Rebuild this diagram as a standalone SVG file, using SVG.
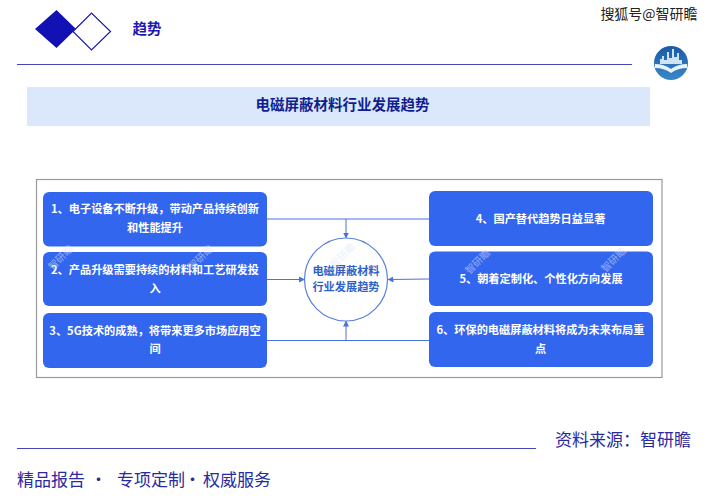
<svg xmlns="http://www.w3.org/2000/svg" width="714" height="500" viewBox="0 0 714 500">
<defs>
<style>
text{font-family:"Noto Sans CJK SC","Liberation Sans",sans-serif;text-anchor:middle}
.node rect{fill:#3366ee}
.node text{fill:#fff;font-size:11.200px;font-weight:700}
.rule{stroke:#4646ba;stroke-width:1.2;fill:none}
.conn{stroke:#4a72e0;stroke-width:1;fill:none;marker-end:url(#arrow)}
.plain{stroke:#4a72e0;stroke-width:1;fill:none}
.wm{fill:#dce6f8;font-size:10px;opacity:.55}
.foot{fill:#2a2aa0;font-size:17px;text-anchor:start}
.hub{font-size:11.200px;font-weight:700;fill:#2f62c8}
</style>
<marker id="arrow" markerWidth="7" markerHeight="7" refX="5.5" refY="3" orient="auto" markerUnits="userSpaceOnUse"><path d="M0 0L6 3L0 6Z" fill="#4a72e0"/></marker>
<linearGradient id="logoFill" x1="0" y1="0" x2="0" y2="1"><stop offset="0" stop-color="#1c5aa6"/><stop offset="1" stop-color="#3a88c8"/></linearGradient>
</defs>
<rect width="714" height="500" fill="#fff"/>
<g id="header">
<path d="M35 29L56.500 10L76 29L56.500 48Z" fill="#1212b4"/>
<path d="M73 31.500L91.500 13L110.500 31.500L91.500 50Z" fill="#fff" stroke="#1a1aa8" stroke-width="1.200"/>
<text x="147" y="34" style="font-size:14.500px;font-weight:700;fill:#1a1ab0">趋势</text>
<line class="rule" x1="17" y1="64.500" x2="632" y2="64.500"/>
<text x="649" y="19" style="font-size:14px;fill:#222;stroke:#fff;stroke-width:2.500px;paint-order:stroke">搜狐号@智研瞻</text>
</g>
<g id="logo">
<circle cx="671" cy="63" r="17" fill="url(#logoFill)"/>
<path d="M660 64V59H662V56H664V60H667V52H669V58H672V49H674V57H677V53H679V60H682V64Z" fill="#cfe3f5"/>
<path d="M655 64Q664 64 671 69Q678 64 687 64V68Q678 68 671 73Q664 68 655 68Z" fill="#e8f2fb"/>
</g>
<g id="title">
<rect x="27" y="87" width="623" height="39" fill="#dbe8fb"/>
<text x="342.500" y="110" style="font-size:14.500px;font-weight:700;fill:#0f1f8f">电磁屏蔽材料行业发展趋势</text>
</g>
<rect id="frame" x="36.500" y="179.500" width="625.500" height="198" fill="#fff" stroke="#999" stroke-width="1.200"/>
<g id="connectors">
<path class="plain" d="M267 219H429"/>
<path class="conn" d="M346 219V238"/>
<path class="conn" d="M267 279.500H304.500"/>
<path class="conn" d="M429 279L388 279.500"/>
<path class="plain" d="M267 340.500H429"/>
<path class="conn" d="M346 340.500V321"/>
</g>
<g id="center">
<circle cx="346" cy="279.500" r="41.500" fill="#fff" stroke="#5a80dc" stroke-width="1.200"/>
<text class="hub" x="346" y="275">电磁屏蔽材料</text>
<text class="hub" x="346" y="291">行业发展趋势</text>
</g>
<g id="node1" class="node"><rect x="43" y="192" width="224" height="54.500" rx="6"/>
<text x="155" y="212.500">1、电子设备不断升级&#65292;带动产品持续创新</text><text x="155" y="231.500">和性能提升</text></g>
<g id="node2" class="node"><rect x="43" y="252" width="224" height="54" rx="6"/>
<text x="155" y="273.500">2、产品升级需要持续的材料和工艺研发投</text><text x="155" y="292.500">入</text></g>
<g id="node3" class="node"><rect x="43" y="313" width="224" height="55" rx="6"/>
<text x="155" y="334.500">3、5G技术的成熟&#65292;将带来更多市场应用空</text><text x="155" y="352.500">间</text></g>
<g id="node4" class="node"><rect x="429" y="191" width="224" height="55" rx="6"/>
<text x="540.500" y="222.500">4、国产替代趋势日益显著</text></g>
<g id="node5" class="node"><rect x="429" y="251.500" width="224" height="54.500" rx="6"/>
<text x="541" y="282.500">5、朝着定制化、个性化方向发展</text></g>
<g id="node6" class="node"><rect x="429" y="312" width="224" height="55" rx="6"/>
<text x="540.500" y="333.500">6、环保的电磁屏蔽材料将成为未来布局重</text><text x="540.500" y="352.500">点</text></g>
<g id="watermarks">
<text class="wm" transform="rotate(-45 61 258)" x="61" y="261">智研瞻</text>
<text class="wm" transform="rotate(-45 201 258)" x="201" y="261">智研瞻</text>
<text class="wm" transform="rotate(-45 343 256)" x="343" y="259">智研瞻</text>
<text class="wm" transform="rotate(-45 478 262)" x="478" y="265">智研瞻</text>
<text class="wm" transform="rotate(-45 614 260)" x="614" y="263">智研瞻</text>
</g>
<g id="footer">
<line class="rule" x1="17" y1="448.500" x2="536" y2="448.500"/>
<text class="foot" x="555" y="446">资料来源&#65306;智研瞻</text>
<text class="foot" x="17" y="486">精品报告<tspan x="90">•</tspan><tspan x="117">专项定制</tspan><tspan x="184">•</tspan><tspan x="203">权威服务</tspan></text>
</g>
</svg>
